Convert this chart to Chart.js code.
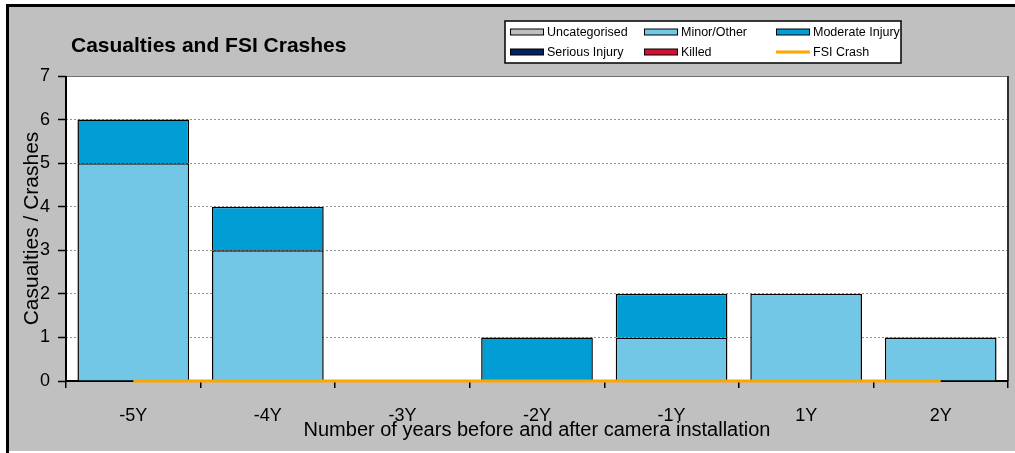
<!DOCTYPE html>
<html>
<head>
<meta charset="utf-8">
<title>Casualties and FSI Crashes</title>
<script src="https://cdn.jsdelivr.net/npm/chart.js@4/dist/chart.umd.min.js"></script>
<style>
  body { margin: 0; background: #ffffff; }
  canvas { display: block; }
</style>
</head>
<body>
<canvas id="myChart" width="1015" height="453"></canvas>
<script>
// Years relative to the camera install
var anos = ['-5Y', '-4Y', '-3Y', '-2Y', '-1Y', '1Y', '2Y'];

// Casualties by severity, stacked bottom to top
var uncategorised = [0, 0, 0, 0, 0, 0, 0];
var minorOther = [5, 3, 0, 0, 1, 2, 1];
var moderateInjury = [1, 1, 0, 1, 1, 0, 0];
var seriousInjury = [0, 0, 0, 0, 0, 0, 0];
var killed = [0, 0, 0, 0, 0, 0, 0];

// Fatal / serious injury crash count (line)
var fsiCrash = [0, 0, 0, 0, 0, 0, 0];

var yTicks = [0, 1, 2, 3, 4, 5, 6, 7];

var fonte = 'Liberation Sans, Arial, sans-serif';

// Grey panel, black frame, plot frame and the chart title
var fundo = {
  id: 'fundo',
  beforeDraw: function (chart) {
    var ctx = chart.ctx;
    var a = chart.chartArea;
    ctx.save();
    ctx.fillStyle = '#ffffff';
    ctx.fillRect(0, 0, chart.width, chart.height);
    ctx.fillStyle = '#c0c0c0';
    ctx.fillRect(9, 7, chart.width - 9, 444);
    ctx.fillStyle = '#000000';
    ctx.fillRect(6, 4, chart.width - 6, 3);
    ctx.fillRect(6, 4, 3, chart.height - 4);
    ctx.fillStyle = '#ffffff';
    ctx.fillRect(a.left, a.top, a.right - a.left, a.bottom - a.top);

    ctx.fillStyle = '#000000';
    ctx.font = 'bold 21px ' + fonte;
    ctx.textAlign = 'left';
    ctx.textBaseline = 'middle';
    ctx.fillText('Casualties and FSI Crashes', 71, 46);
    ctx.restore();
  },
  beforeDatasetsDraw: function (chart) {
    var ctx = chart.ctx;
    var a = chart.chartArea;
    ctx.save();
    ctx.strokeStyle = '#707070';
    ctx.lineWidth = 1;
    ctx.beginPath();
    ctx.moveTo(a.left, a.top + 0.5);
    ctx.lineTo(a.right, a.top + 0.5);
    ctx.stroke();
    ctx.strokeStyle = '#303030';
    ctx.lineWidth = 2;
    ctx.beginPath();
    ctx.moveTo(a.right, a.top);
    ctx.lineTo(a.right, a.bottom);
    ctx.stroke();
    ctx.strokeStyle = '#000000';
    ctx.beginPath();
    ctx.moveTo(a.left, a.top);
    ctx.lineTo(a.left, a.bottom);
    ctx.lineTo(a.right, a.bottom);
    ctx.stroke();
    ctx.restore();
  }
};

// Boxed legend, three columns by two rows
var legenda = {
  id: 'legenda',
  afterDraw: function (chart) {
    var ctx = chart.ctx;
    var colX = [510, 644, 776];
    var rowY = [32, 52];
    ctx.save();
    ctx.fillStyle = '#ffffff';
    ctx.fillRect(505, 21, 396, 42);
    ctx.strokeStyle = '#000000';
    ctx.lineWidth = 1.5;
    ctx.strokeRect(505, 21, 396, 42);
    ctx.font = '12.5px ' + fonte;
    ctx.textAlign = 'left';
    ctx.textBaseline = 'middle';
    chart.data.datasets.forEach(function (ds, i) {
      var x = colX[i % 3];
      var y = rowY[Math.floor(i / 3)];
      if (ds.type === 'line') {
        ctx.fillStyle = ds.borderColor;
        ctx.fillRect(x, y - 1.5, 34, 3);
      } else {
        ctx.fillStyle = ds.backgroundColor;
        ctx.fillRect(x, y - 3, 34, 6);
        ctx.lineWidth = 1;
        ctx.strokeStyle = '#000000';
        ctx.strokeRect(x + 0.5, y - 3, 33, 6);
      }
      ctx.fillStyle = '#000000';
      ctx.fillText(ds.label, x + 37, y + 1);
    });
    ctx.restore();
  }
};

function barra(label, data, cor) {
  return {
    type: 'bar',
    label: label,
    data: data,
    backgroundColor: cor,
    borderColor: '#000000',
    borderWidth: 1.5,
    barPercentage: 0.83,
    categoryPercentage: 1,
    stack: 'casualties',
    order: 2
  };
}

var ctx = document.getElementById('myChart').getContext('2d');

var myChart = new Chart(ctx, {
  data: {
    labels: anos,
    datasets: [
      barra('Uncategorised', uncategorised, '#c0c0c0'),
      barra('Minor/Other', minorOther, '#72c6e6'),
      barra('Moderate Injury', moderateInjury, '#009ed5'),
      barra('Serious Injury', seriousInjury, '#00235f'),
      barra('Killed', killed, '#d2102f'),
      {
        type: 'line',
        label: 'FSI Crash',
        data: fsiCrash,
        borderColor: '#ffa500',
        backgroundColor: '#ffa500',
        borderWidth: 3,
        pointRadius: 0,
        stack: 'fsi',
        clip: false,
        order: 1
      }
    ]
  },
  options: {
    responsive: false,
    animation: false,
    devicePixelRatio: 1,
    layout: { padding: { left: 10, right: 7, top: 76, bottom: 0 } },
    plugins: {
      legend: { display: false },
      title: { display: false },
      tooltip: { enabled: false }
    },
    scales: {
      x: {
        stacked: true,
        afterFit: function (scale) { scale.height = 72; },
        grid: {
          offset: true,
          drawOnChartArea: false,
          drawTicks: true,
          tickLength: 7,
          tickColor: '#000000',
          lineWidth: 1.5
        },
        border: { display: false },
        ticks: {
          color: '#000000',
          font: { family: fonte, size: 18 },
          padding: 17,
          maxRotation: 0
        },
        title: {
          display: true,
          text: 'Number of years before and after camera installation',
          color: '#000000',
          font: { family: fonte, size: 20 },
          padding: { top: 0, bottom: 11 }
        }
      },
      y: {
        stacked: true,
        min: 0,
        max: 7,
        afterFit: function (scale) { scale.width = 56; },
        afterBuildTicks: function (scale) {
          scale.ticks = yTicks.map(function (v) { return { value: v }; });
        },
        grid: {
          color: '#909090',
          lineWidth: 1,
          drawTicks: true,
          tickLength: 8,
          tickColor: '#000000',
          tickBorderDash: [],
          tickWidth: 1.5
        },
        border: { display: false, dash: [2, 2] },
        ticks: {
          color: '#000000',
          font: { family: fonte, size: 18 },
          padding: 8
        },
        title: {
          display: true,
          text: 'Casualties / Crashes',
          color: '#000000',
          font: { family: fonte, size: 21 },
          padding: { top: 10, bottom: 0 }
        }
      }
    }
  },
  plugins: [fundo, legenda]
});
</script>
</body>
</html>
